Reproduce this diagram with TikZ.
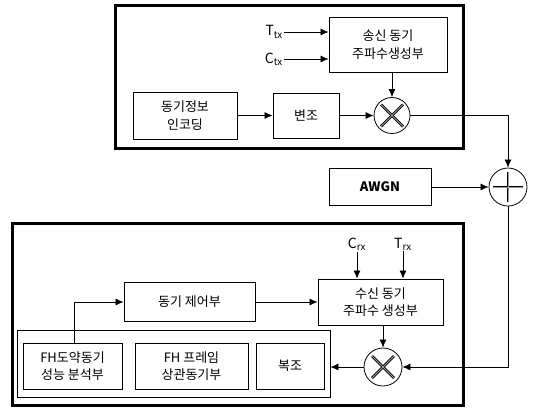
\documentclass[tikz,border=0pt]{standalone}
\usepackage{fontspec}
\setmainfont{Noto Sans CJK KR}
\usetikzlibrary{arrows.meta}
\begin{document}
\begin{tikzpicture}[x=1pt,y=-1pt,
  blk/.style={draw, line width=0.8pt, align=center, inner sep=0pt,
    font=\fontsize{13}{17.5}\selectfont},
  frame/.style={draw, line width=3pt, inner sep=0pt},
  grp/.style={draw, line width=0.8pt, inner sep=0pt},
  opc/.style={draw, circle, line width=0.8pt, inner sep=0pt},
  sym/.style={line width=2.6pt, black},
  symin/.style={line width=0.9pt, white!60!black},
  lbl/.style={inner sep=1pt, font=\fontsize{14}{16}\selectfont},
  arr/.style={line width=0.7pt, -{Latex[length=8pt,width=7pt]}}]
\useasboundingbox (0,0) rectangle (534,408);

% transmitter frame
\node[frame, minimum width=348pt, minimum height=143pt] (txframe) at (289,76.5) {};
\node[blk, minimum width=118pt, minimum height=55pt] (txgen) at (388,44.5) {송신 동기\\주파수생성부};
\node[blk, minimum width=104pt, minimum height=47pt] (enc) at (185,115.5) {동기정보\\인코딩};
\node[blk, minimum width=66pt, minimum height=45pt] (mod) at (306,115.5) {변조};
\node[opc, minimum size=36pt] (mulT) at (392,115.5) {};
\foreach \s in {sym,symin} {
  \draw[\s] (mulT.center) ++(-11,-11) -- ++(22,22);
  \draw[\s] (mulT.center) ++(-11,11) -- ++(22,-22);
}
\node[lbl, anchor=east] (Ttx) at (284,32) {T\textsubscript{tx}};
\node[lbl, anchor=east] (Ctx) at (284,59) {C\textsubscript{tx}};

% channel
\node[blk, minimum width=102pt, minimum height=37pt, font=\fontsize{13}{15}\selectfont\bfseries] (awgn) at (380,187) {AWGN};
\node[opc, minimum size=38pt] (adder) at (508,187) {};
\foreach \s in {sym,symin} {
  \draw[\s] (adder.center) ++(-15,0) -- ++(30,0);
  \draw[\s] (adder.center) ++(0,-15) -- ++(0,30);
}

% receiver frame
\node[frame, minimum width=451pt, minimum height=182pt] (rxframe) at (237.5,314) {};
\node[blk, minimum width=125pt, minimum height=46pt] (rxgen) at (380.5,302) {수신 동기\\주파수 생성부};
\node[blk, minimum width=131pt, minimum height=39pt] (ctrl) at (189.5,302) {동기 제어부};
\node[opc, minimum size=38pt] (mulR) at (383,367) {};
\foreach \s in {sym,symin} {
  \draw[\s] (mulR.center) ++(-11,-11) -- ++(22,22);
  \draw[\s] (mulR.center) ++(-11,11) -- ++(22,-22);
}
\node[grp, minimum width=313pt, minimum height=67pt] (group) at (173.5,363.5) {};
\node[blk, minimum width=99pt, minimum height=46pt] (fhsync) at (72.5,366) {FH도약동기\\성능 분석부};
\node[blk, minimum width=113pt, minimum height=46pt] (fhframe) at (191.5,366) {FH 프레임\\상관동기부};
\node[blk, minimum width=68pt, minimum height=46pt] (demod) at (290,366) {복조};
\node[lbl] (Crx) at (357,244) {C\textsubscript{rx}};
\node[lbl] (Trx) at (403,244) {T\textsubscript{rx}};

% connectors
\draw[arr] (Ttx.east) -- (Ttx.east -| txgen.west);
\draw[arr] (Ctx.east) -- (Ctx.east -| txgen.west);
\draw[arr] (mulT.north |- txgen.south) -- (mulT.north);
\draw[arr] (enc.east) -- (mod.west);
\draw[arr] (mod.east) -- (mulT.west);
\draw[arr] (mulT.east) -| (adder.north);
\draw[arr] (awgn.east) -- (adder.west);
\draw[arr] (adder.south) |- (mulR.east);
\draw[arr] (Crx.south) -- (Crx.south |- rxgen.north);
\draw[arr] (Trx.south) -- (Trx.south |- rxgen.north);
\draw[arr] (ctrl.east) -- (ctrl.east -| rxgen.west);
\draw[arr] (mulR.north |- rxgen.south) -- (mulR.north);
\draw[arr] (mulR.west) -- (mulR.west -| group.east);
\draw[arr] ([xshift=1.5pt]fhsync.north) |- (ctrl.west);
\end{tikzpicture}
\end{document}
